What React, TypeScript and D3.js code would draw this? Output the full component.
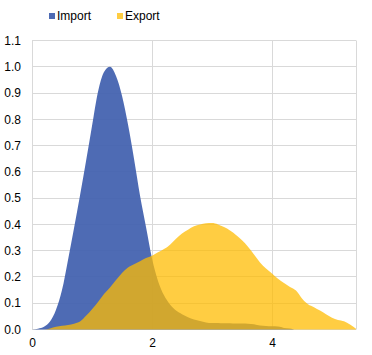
import { useEffect, useRef } from 'react'
import * as d3 from 'd3'

const xValues = [
  0, 0.1, 0.2, 0.3, 0.4, 0.5, 0.6, 0.7, 0.8, 0.9,
  1.0, 1.1, 1.2, 1.3, 1.4, 1.5, 1.6, 1.7, 1.8, 1.9,
  2.0, 2.1, 2.2, 2.3, 2.4, 2.5, 2.6, 2.7, 2.8, 2.9,
  3.0, 3.1, 3.2, 3.3, 3.4, 3.5, 3.6, 3.7, 3.8, 3.9,
  4.0, 4.1, 4.2, 4.3, 4.4, 4.5, 4.6, 4.7, 4.8, 4.9,
  5.0, 5.1, 5.2, 5.3, 5.4,
]

const importValues = [
  0, 0.003, 0.01, 0.03, 0.075, 0.15, 0.265, 0.385, 0.51, 0.64,
  0.775, 0.905, 0.98, 1.0, 0.965, 0.89, 0.78, 0.65, 0.51, 0.39,
  0.27, 0.185, 0.13, 0.095, 0.072, 0.058, 0.047, 0.038, 0.032, 0.027,
  0.025, 0.025, 0.024, 0.024, 0.023, 0.023, 0.022, 0.02, 0.015, 0.013,
  0.012, 0.011, 0.006, 0.004, 0, 0, 0, 0, 0, 0,
  0, 0, 0, 0, 0,
]

const exportValues = [
  0, 0, 0, 0.004, 0.01, 0.014, 0.017, 0.022, 0.03, 0.052,
  0.077, 0.105, 0.135, 0.16, 0.188, 0.215, 0.236, 0.248, 0.26, 0.272,
  0.281, 0.294, 0.306, 0.323, 0.345, 0.365, 0.38, 0.393, 0.4, 0.404,
  0.405, 0.4, 0.39, 0.377, 0.36, 0.34, 0.315, 0.285, 0.255, 0.232,
  0.213, 0.193, 0.177, 0.162, 0.148, 0.118, 0.096, 0.085, 0.072, 0.058,
  0.045, 0.036, 0.031, 0.019, 0.003,
]

const yTicks = [0, 0.1, 0.2, 0.3, 0.4, 0.5, 0.6, 0.7, 0.8, 0.9, 1.0, 1.1]
const xTicks = [0, 2, 4]

const series = [
  { name: 'Import', values: importValues, color: '#4463B0', opacity: 0.95 },
  { name: 'Export', values: exportValues, color: '#FFBB00', opacity: 0.74 },
]

export default function App() {
  const svgRef = useRef<SVGSVGElement>(null)

  useEffect(() => {
    if (!svgRef.current) return
    const svg = d3.select(svgRef.current)
    svg.selectAll('*').remove()

    const x = d3.scaleLinear().domain([0, 5.4]).range([32, 356])
    const y = d3.scaleLinear().domain([0, 1.1]).range([329.5, 40.5])
    const font = 'Liberation Sans, Arial, sans-serif'

    // gridlines
    const grid = svg.append('g').attr('stroke', '#D9D9D9').attr('stroke-width', 1)
    yTicks.forEach((t) => {
      const yy = Math.round(y(t) - 0.5) + 0.5
      grid.append('line').attr('x1', x(0)).attr('x2', x(5.4)).attr('y1', yy).attr('y2', yy)
    })
    ;[...xTicks, 5.4].forEach((t) => {
      const xx = Math.round(x(t) - 0.5) + 0.5
      grid.append('line').attr('x1', xx).attr('x2', xx).attr('y1', y(1.1)).attr('y2', y(0))
    })

    // areas
    const data = xValues.map((xv, i) => ({ x: xv, i }))
    series.forEach((s) => {
      const area = d3.area<{ x: number; i: number }>()
        .x((d) => x(d.x))
        .y0(y(0))
        .y1((d) => y(s.values[d.i]))
        .curve(d3.curveMonotoneX)
      svg.append('path')
        .datum(data)
        .attr('d', area)
        .attr('fill', s.color)
        .attr('fill-opacity', s.opacity)
    })

    // y labels
    svg.append('g')
      .selectAll('text')
      .data(yTicks)
      .join('text')
      .attr('x', 21)
      .attr('y', (d) => y(d))
      .attr('dy', '0.35em')
      .attr('text-anchor', 'end')
      .attr('font-family', font)
      .attr('font-size', 12)
      .attr('fill', '#000')
      .text((d) => d.toFixed(1))

    // x labels
    svg.append('g')
      .selectAll('text')
      .data(xTicks)
      .join('text')
      .attr('x', (d) => x(d) + 0.5)
      .attr('y', 343)
      .attr('dy', '0.35em')
      .attr('text-anchor', 'middle')
      .attr('font-family', font)
      .attr('font-size', 12)
      .attr('fill', '#000')
      .text((d) => String(d))

    // legend
    const legendX = [49, 117]
    series.forEach((s, i) => {
      svg.append('rect')
        .attr('x', legendX[i])
        .attr('y', 13)
        .attr('width', 6)
        .attr('height', 6)
        .attr('fill', s.color)
        .attr('fill-opacity', s.opacity)
      svg.append('text')
        .attr('x', legendX[i] + 8)
        .attr('y', 16)
        .attr('dy', '0.35em')
        .attr('font-family', font)
        .attr('font-size', 12)
        .attr('fill', '#000')
        .text(s.name)
    })
  }, [])

  return (
    <svg
      ref={svgRef}
      width={372}
      height={355}
      style={{ position: 'absolute', left: 0, top: 0, background: '#fff' }}
    />
  )
}
